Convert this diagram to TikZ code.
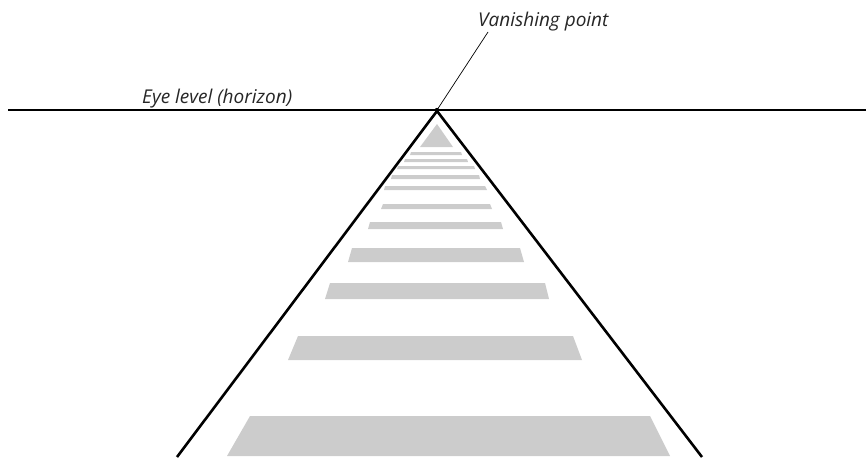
\documentclass[tikz,border=0pt]{standalone}
\usepackage{fontspec}
\setmainfont{Open Sans}
\begin{document}
\begin{tikzpicture}[x=1pt,y=-1pt,
  stripe/.style={fill=stripegray,draw=none},
  label/.style={font=\itshape\fontsize{19}{22}\selectfont,text=black!85,inner sep=0pt},
  thickline/.style={line width=2.6pt,black},
  horizonline/.style={line width=1.5pt,black}]
\definecolor{stripegray}{RGB}{204,204,204}
\useasboundingbox (0,0) rectangle (866,460);

% road markings receding towards the vanishing point
\fill[stripe] (437,124) -- (453,147) -- (420,147) -- cycle;
\foreach \yt/\yb/\lt/\rt/\lb/\rb in {
  152/155/411/461/410/462,
  159/162/405/467/404/468,
  166/169/398/474/397/475,
  175/179/392/479/391/480,
  186/190/385/485/384/487,
  204/209/383/490/381/492,
  222/229/370/501/368/503,
  248/262/352/520/348/524,
  283/299/330/545/325/549,
  336/360/298/573/288/582,
  416/456/250/650/227/670}
  \fill[stripe] (\lt,\yt) -- (\rt,\yt) -- (\rb,\yb) -- (\lb,\yb) -- cycle;

% horizon and vanishing point
\coordinate (hl) at (8,110);
\coordinate (hr) at (866,110);
\coordinate (vp) at (437,110);
\draw[horizonline] (hl) -- (hr);

% edges of the road
\coordinate (bl) at (177,457);
\coordinate (br) at (702,457);
\draw[thickline,line join=miter] (bl) -- (437,111) -- (br);

% labels
\node[label,anchor=base west] (eye) at (142,103) {Eye level (horizon)};
\node[label,anchor=base west] (van) at (478,27) {Vanishing point};
\coordinate (lead) at (488,32);
\draw[line width=0.7pt] (vp) -- (lead);
\fill (vp) circle (2.2);
\end{tikzpicture}
\end{document}
